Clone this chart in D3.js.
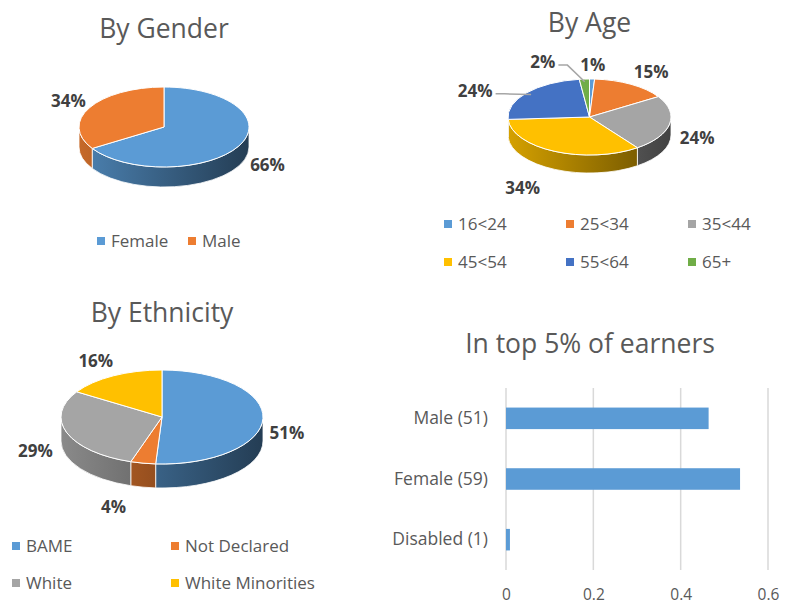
<!DOCTYPE html>
<html>
<head>
<meta charset="utf-8">
<script src="https://cdn.jsdelivr.net/npm/d3@7"></script>
<style>
  body { margin: 0; background: #fff; }
  text { font-family: "Open Sans", sans-serif; }
</style>
</head>
<body>
<svg id="chart" width="785" height="604"></svg>
<script>
// ---- data ----
var genderLabels = ["Female", "Male"];
var genderValues = [66, 34];

var ageLabels = ["16<24", "25<34", "35<44", "45<54", "55<64", "65+"];
var ageValues = [1, 15, 24, 34, 24, 2];

var ethnicityLabels = ["BAME", "Not Declared", "White", "White Minorities"];
var ethnicityValues = [51, 4, 29, 16];

var earnerLabels = ["Male (51)", "Female (59)", "Disabled (1)"];
var earnerValues = [0.464, 0.536, 0.009];
var earnerTicks = [0, 0.2, 0.4, 0.6];

var officeColors = ["#5B9BD5", "#ED7D31", "#A5A5A5", "#FFC000", "#4472C4", "#70AD47"];

// label tweaks where excel moved labels off their slice
var labelNudge = {
    gender: {"Female": [8, -2]},
    age: {"25<34": [8, 0], "35<44": [4, 0], "45<54": [-22, 1], "55<64": [-33, 7], "65+": [-40, -3]},
    ethnicity: {"Not Declared": [-25, -5], "White": [-9, -2], "White Minorities": [-6, -2]}
};
var leaderLines = {age: ["55<64", "65+"]};

var textColor = "#595959";
var labelColor = "#404040";

var svg = d3.select("#chart");
var defs = svg.append("defs");

function drawTitle(x, y, t) {
    svg.append("text")
        .attr("x", x).attr("y", y)
        .attr("text-anchor", "middle")
        .style("font-size", "26.5px")
        .style("fill", textColor)
        .text(t);
}

function drawLegend(labels, lg) {
    var g = svg.append("g");
    labels.forEach(function(l, i) {
        var col = i % lg.cols, row = Math.floor(i / lg.cols);
        var x = lg.x + col * lg.colW, y = lg.y + row * lg.rowH;
        g.append("rect").attr("x", x).attr("y", y - 4).attr("width", 8).attr("height", 8)
            .attr("fill", officeColors[i]);
        g.append("text").attr("x", x + 14).attr("y", y).attr("dy", "0.35em")
            .style("font-size", "17px").style("fill", textColor).text(l);
    });
}

function draw3DPie(p) {
    var g = svg.append("g");
    var cx = p.cx, cy = p.cy, rx = p.rx, ry = p.ry, depth = p.depth;
    var pie = d3.pie().sort(null).value(function(d) { return d.v; });
    var arcs = pie(p.values.map(function(v, i) { return {v: v, label: p.labels[i], i: i}; }));

    function pt(a, dy) { return [cx + rx * Math.sin(a), cy - ry * Math.cos(a) + (dy || 0)]; }

    // gradients for the walls, dark towards the right like excel
    arcs.forEach(function(a) {
        var c = d3.color(officeColors[a.index]);
        var grad = defs.append("linearGradient")
            .attr("id", p.id + "-side-" + a.index)
            .attr("gradientUnits", "userSpaceOnUse")
            .attr("x1", cx - rx).attr("x2", cx + rx).attr("y1", 0).attr("y2", 0);
        grad.append("stop").attr("offset", "0%").attr("stop-color", c.darker(0.5).formatHex());
        grad.append("stop").attr("offset", "100%").attr("stop-color", c.darker(2.6).formatHex());
    });

    // outer walls (front half only)
    arcs.forEach(function(a) {
        var s = Math.max(a.startAngle, Math.PI / 2), e = Math.min(a.endAngle, 3 * Math.PI / 2);
        if (e <= s) return;
        var d = "M" + pt(s) + "A" + rx + "," + ry + " 0 0 1 " + pt(e) +
                "L" + pt(e, depth) + "A" + rx + "," + ry + " 0 0 0 " + pt(s, depth) + "Z";
        g.append("path").attr("d", d)
            .attr("fill", "url(#" + p.id + "-side-" + a.index + ")")
            .attr("stroke", "#fff").attr("stroke-width", 0.8);
    });

    // top faces
    arcs.forEach(function(a) {
        var large = (a.endAngle - a.startAngle) > Math.PI ? 1 : 0;
        var d = "M" + cx + "," + cy + "L" + pt(a.startAngle) +
                "A" + rx + "," + ry + " 0 " + large + " 1 " + pt(a.endAngle) + "Z";
        g.append("path").attr("d", d)
            .attr("fill", officeColors[a.index])
            .attr("stroke", "#fff").attr("stroke-width", 1);
    });

    // data labels
    var nudges = labelNudge[p.id] || {};
    var leaders = leaderLines[p.id] || [];
    arcs.forEach(function(a) {
        var m = (a.startAngle + a.endAngle) / 2;
        var c = Math.cos(m);
        var front = c < 0 ? depth * (0.6 + 0.9 * Math.pow(-c, 3)) : 0;
        var x = cx + (rx + 24) * Math.sin(m);
        var y = cy - (ry + 14) * c + front;
        var n = nudges[a.data.label] || [0, 0];
        x += n[0]; y += n[1];
        var t = g.append("text")
            .attr("x", x).attr("y", y).attr("dy", "0.35em")
            .attr("text-anchor", "middle")
            .style("font-size", "17px").style("font-weight", "bold")
            .style("fill", labelColor)
            .text(a.data.v + "%");
        if (leaders.indexOf(a.data.label) >= 0) {
            var bb = t.node().getBBox();
            var sx = bb.x + bb.width + 3, sy = y + 3;
            var anchor = [cx + rx * 0.93 * Math.sin(m), cy - ry * 0.93 * Math.cos(m)];
            g.append("polyline")
                .attr("points", [[sx, sy], [sx + 9, sy], anchor].join(" "))
                .attr("fill", "none").attr("stroke", "#a6a6a6").attr("stroke-width", 1.5);
        }
    });

    drawTitle(p.cx, p.titleY, p.title);
    drawLegend(p.labels, p.legend);
}

draw3DPie({id: "gender", title: "By Gender", labels: genderLabels, values: genderValues,
    cx: 164, cy: 127, rx: 85, ry: 40, depth: 20, titleY: 38,
    legend: {x: 97, y: 241, colW: 91, rowH: 0, cols: 2}});

draw3DPie({id: "age", title: "By Age", labels: ageLabels, values: ageValues,
    cx: 589.5, cy: 117, rx: 81.5, ry: 38, depth: 18, titleY: 32,
    legend: {x: 444, y: 224, colW: 122, rowH: 38, cols: 3}});

draw3DPie({id: "ethnicity", title: "By Ethnicity", labels: ethnicityLabels, values: ethnicityValues,
    cx: 162, cy: 417, rx: 101, ry: 47, depth: 24, titleY: 322,
    legend: {x: 12, y: 546, colW: 159, rowH: 37, cols: 2}});

// ---- bar chart: in top 5% of earners ----
var x = d3.scaleLinear().domain([0, 0.6]).range([506, 768]);
var y = d3.scaleBand().domain(earnerLabels).range([388, 570])
    .paddingInner(0.645).paddingOuter(0.3225);

var bars = svg.append("g");

bars.selectAll("line.grid")
    .data(earnerTicks)
    .enter()
    .append("line")
    .attr("class", "grid")
    .attr("x1", function(d) { return x(d); })
    .attr("x2", function(d) { return x(d); })
    .attr("y1", 388).attr("y2", 570)
    .attr("stroke", "#d9d9d9").attr("stroke-width", 1.5);

bars.selectAll("rect")
    .data(earnerValues)
    .enter()
    .append("rect")
    .attr("x", x(0))
    .attr("y", function(d, i) { return y(earnerLabels[i]); })
    .attr("width", function(d) { return x(d) - x(0); })
    .attr("height", y.bandwidth())
    .attr("fill", "#5B9BD5");

var yAxis = bars.append("g")
    .attr("transform", "translate(" + x(0) + ",0)")
    .call(d3.axisLeft(y).tickSize(0).tickPadding(18));
yAxis.select(".domain").remove();
yAxis.selectAll("text").style("font-size", "17.5px").style("fill", textColor)
    .style("font-family", "'Open Sans', sans-serif");

var xAxis = bars.append("g")
    .attr("transform", "translate(0,600)")
    .call(d3.axisBottom(x).tickValues(earnerTicks).tickSize(0).tickPadding(0)
        .tickFormat(function(d) { return d === 0 ? "0" : d3.format(".1f")(d); }));
xAxis.select(".domain").remove();
xAxis.selectAll("text").attr("dy", 0).style("font-size", "15.5px").style("fill", textColor)
    .style("font-family", "'Open Sans', sans-serif");

drawTitle(590, 353, "In top 5% of earners");
</script>
</body>
</html>
